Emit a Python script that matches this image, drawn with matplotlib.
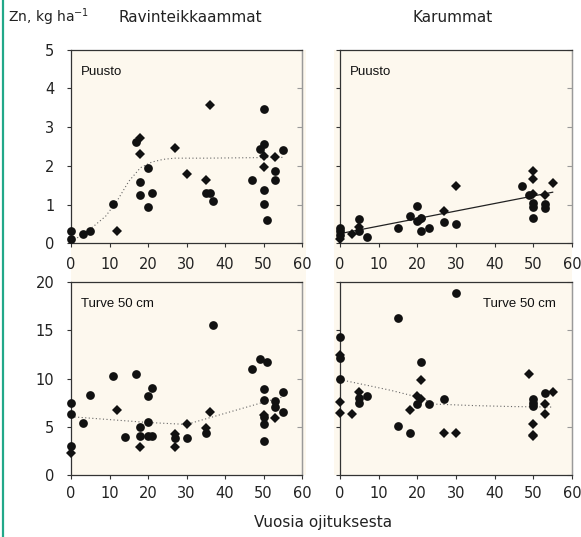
import numpy as np
import matplotlib.pyplot as plt
from matplotlib.patches import Rectangle
from matplotlib.lines import Line2D

# years since drainage (x) and Zn, kg/ha (y)
# Ravinteikkaammat, Puusto
rp_circ_x = [0, 0, 3, 5, 11, 17, 18, 18, 20, 20, 21, 35, 36, 37, 47, 49, 50, 50, 50, 50, 51, 53, 53, 55]
rp_circ_y = [0.32, 0.10, 0.24, 0.33, 1.02, 2.61, 1.58, 1.25, 1.95, 0.93, 1.30, 1.31, 1.31, 1.10,
             1.64, 2.44, 2.57, 3.46, 1.38, 1.01, 0.61, 1.86, 1.64, 2.42]
rp_diam_x = [12, 18, 18, 27, 30, 35, 36, 50, 50, 53]
rp_diam_y = [0.32, 2.72, 2.31, 2.47, 1.79, 1.64, 3.57, 2.25, 1.96, 2.22]
rp_fit_x = [0, 3, 6, 9, 12, 15, 18, 21, 24, 27, 35, 45, 55]
rp_fit_y = [0.05, 0.22, 0.45, 0.7, 1.1, 1.6, 1.95, 2.1, 2.17, 2.2, 2.2, 2.21, 2.22]

# Karummat, Puusto
kp_circ_x = [0, 0, 0, 5, 5, 7, 15, 18, 20, 20, 21, 21, 23, 27, 30, 47, 49, 50, 50, 50, 53, 53]
kp_circ_y = [0.40, 0.32, 0.22, 0.63, 0.32, 0.17, 0.40, 0.70, 0.97, 0.58, 0.66, 0.33, 0.39, 0.56,
             0.49, 1.49, 1.25, 1.04, 0.93, 0.65, 1.02, 0.90]
kp_diam_x = [0, 3, 5, 21, 27, 30, 50, 50, 50, 53, 55]
kp_diam_y = [0.12, 0.25, 0.43, 0.63, 0.84, 1.48, 1.87, 1.67, 1.28, 1.25, 1.55]
kp_fit_x = [0, 55]
kp_fit_y = [0.25, 1.32]

# Ravinteikkaammat, Turve 50 cm
rt_circ_x = [0, 0, 0, 3, 5, 11, 14, 17, 18, 18, 20, 20, 20, 21, 21, 27, 30, 35, 37, 47, 49, 51,
             50, 50, 50, 50, 50, 53, 53, 55, 55]
rt_circ_y = [7.51, 6.37, 3.01, 5.36, 8.30, 10.28, 3.91, 10.52, 5.02, 4.08, 8.24, 5.54, 4.08, 4.08,
             9.0, 3.8, 3.88, 4.33, 15.57, 11.0, 12.0, 11.7, 8.93, 7.79, 6.0, 5.29, 3.53, 7.7, 7.1,
             8.65, 6.57]
rt_diam_x = [0, 12, 18, 27, 27, 30, 35, 36, 50, 53]
rt_diam_y = [2.32, 6.71, 2.87, 4.3, 2.9, 5.26, 4.84, 6.57, 6.2, 5.9]
rt_fit_x = [0, 10, 20, 30, 40, 50, 55]
rt_fit_y = [6.05, 5.75, 5.45, 5.25, 6.4, 7.55, 8.1]

# Karummat, Turve 50 cm
kt_circ_x = [0, 0, 0, 5, 5, 7, 15, 15, 18, 21, 20, 23, 27, 30, 50, 50, 50, 53]
kt_circ_y = [14.3, 12.1, 9.94, 7.96, 7.51, 8.24, 16.26, 5.12, 4.39, 11.76, 7.37, 7.37, 7.89,
             18.9, 7.85, 7.51, 7.2, 8.48]
kt_diam_x = [0, 0, 0, 3, 5, 18, 21, 20, 21, 27, 30, 49, 50, 50, 50, 53, 53, 55]
kt_diam_y = [12.46, 7.55, 6.41, 6.3, 8.65, 6.75, 9.86, 8.24, 7.85, 4.33, 4.33, 10.45, 5.29,
             4.2, 4.05, 7.34, 6.33, 8.58]
kt_fit_x = [0, 13, 20, 25, 35, 45, 55]
kt_fit_y = [9.9, 8.8, 8.1, 7.35, 7.2, 7.1, 7.05]

x_ticks = [0, 10, 20, 30, 40, 50, 60]
cream = '#fdf8ee'
W, H = 581, 537

fig = plt.figure(figsize=(W / 100, H / 100), dpi=100)

def px_rect(x0, y0, x1, y1):
    # pixel box (top-left origin) -> figure fraction [l, b, w, h]
    return [x0 / W, 1 - y1 / H, (x1 - x0) / W, (y1 - y0) / H]

# cream background blocks behind the panels
for x0, x1 in [(71, 306), (334, 572)]:
    l, b, w, h = px_rect(x0, 50, x1, 475)
    fig.patches.append(Rectangle((l, b), w, h, transform=fig.transFigure,
                                 facecolor=cream, edgecolor='none', zorder=-5))

# green edge line
fig.lines.append(Line2D([3 / W, 3 / W], [0, 1], transform=fig.transFigure,
                        color='#22a889', lw=1.6))

panels = [
    (px_rect(71, 49.8, 302, 243.3), rp_circ_x, rp_circ_y, rp_diam_x, rp_diam_y,
     rp_fit_x, rp_fit_y, ':', 5, True, 'Puusto', 'left', 7),
    (px_rect(340, 49.8, 572, 243.3), kp_circ_x, kp_circ_y, kp_diam_x, kp_diam_y,
     kp_fit_x, kp_fit_y, '-', 5, False, 'Puusto', 'left', 7),
    (px_rect(71, 282.3, 302, 475), rt_circ_x, rt_circ_y, rt_diam_x, rt_diam_y,
     rt_fit_x, rt_fit_y, ':', 20, True, 'Turve 50 cm', 'left', 5),
    (px_rect(340, 282.3, 572, 475), kt_circ_x, kt_circ_y, kt_diam_x, kt_diam_y,
     kt_fit_x, kt_fit_y, ':', 20, False, 'Turve 50 cm', 'right', 5),
]

for rect, cx, cy, dx, dy, fx, fy, ls, ymax, ylab, label, where, xpad in panels:
    ax = fig.add_axes(rect)
    ax.set_facecolor('none')
    ax.set_xlim(0, 60)
    ax.set_ylim(0, ymax)
    ax.set_xticks(x_ticks)
    step = 1 if ymax == 5 else 5
    ax.set_yticks(np.arange(0, ymax + 0.1, step))
    if ls == '-':
        ax.plot(fx, fy, color='#222222', lw=0.9, zorder=2)
    else:
        ax.plot(fx, fy, color='#666666', lw=0.8, linestyle=(0, (1, 2.2)), zorder=2)
    ax.plot(cx, cy, 'o', color='#111111', ms=6.3, mew=0, zorder=3, clip_on=False)
    ax.plot(dx, dy, 'D', color='#111111', ms=4.8, mew=0, zorder=3, clip_on=False)

    for s in ['left', 'bottom', 'top']:
        ax.spines[s].set_color('#333333')
        ax.spines[s].set_linewidth(0.9)
    ax.spines['right'].set_color('#9a9a9a')
    ax.spines['right'].set_linewidth(1.0)

    ax.tick_params(axis='x', direction='out', length=3, width=0.8, color='#333333',
                   labelsize=10.5, labelcolor='#222222', pad=xpad)
    ax.tick_params(axis='y', direction='out', length=3, width=0.8, color='#333333',
                   labelsize=10.5, labelcolor='#222222', pad=9, labelleft=ylab)

    sec = ax.secondary_yaxis('right')
    sec.set_yticks(np.arange(0, ymax + 0.1, step))
    sec.tick_params(direction='in', length=3.5, width=0.8, color='#9a9a9a', labelright=False)
    sec.spines['right'].set_color('#9a9a9a')

    if where == 'left':
        ax.text(0.043, 0.885, label, transform=ax.transAxes, fontsize=9.5,
                family='Liberation Sans', color='#111111', ha='left', va='center')
    else:
        ax.text(0.93, 0.886, label, transform=ax.transAxes, fontsize=9.5,
                family='Liberation Sans', color='#111111', ha='right', va='center')

fig.text(8 / W, 1 - 17 / H, 'Zn, kg ha$^{-1}$', fontsize=10, color='#222222',
         ha='left', va='center')
fig.text(190 / W, 1 - 17 / H, 'Ravinteikkaammat', fontsize=11, color='#222222',
         ha='center', va='center')
fig.text(453 / W, 1 - 17 / H, 'Karummat', fontsize=11, color='#222222',
         ha='center', va='center')
fig.text(323 / W, 1 - 522 / H, 'Vuosia ojituksesta', fontsize=11, color='#222222',
         ha='center', va='center')

fig.savefig('out.png', dpi=100)
